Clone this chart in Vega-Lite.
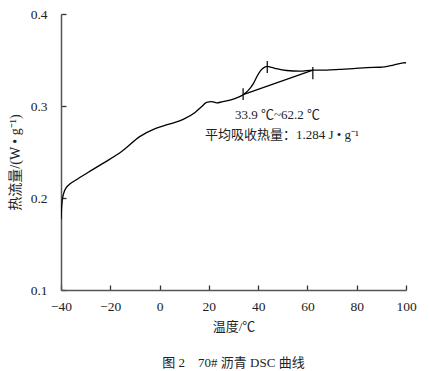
{
  "$schema": "https://vega.github.io/schema/vega-lite/v6.json",
  "width": 345,
  "height": 276,
  "autosize": {"type": "none"},
  "padding": {"left": 61, "top": 14, "right": 23, "bottom": 81},
  "background": "white",
  "config": {
    "view": {"stroke": null},
    "font": "Liberation Serif",
    "axis": {"grid": true, "gridColor": "#333", "gridWidth": 1.3, "gridOpacity": 1, "ticks": false, "domainColor": "#555", "domainWidth": 1.5, "labelColor": "#222", "titleColor": "#222", "labelFont": "Liberation Serif", "labelFontSize": 13.5, "titleFontWeight": "normal", "titleFontSize": 13, "titleFont": "Liberation Serif, Noto Sans CJK SC", "labelFlush": false, "labelOverlap": false}
  },
  "title": {"text": "图 2　70# 沥青 DSC 曲线", "orient": "bottom", "anchor": "middle", "fontSize": 13, "fontWeight": "normal", "font": "Liberation Serif, Noto Sans CJK SC", "color": "#222", "offset": 23},
  "datasets": {
    "curve": [
      {"t": -40.0, "q": 0.177},
      {"t": -39.8, "q": 0.188},
      {"t": -39.4, "q": 0.199},
      {"t": -38.8, "q": 0.206},
      {"t": -37.8, "q": 0.2115},
      {"t": -36.3, "q": 0.2155},
      {"t": -34.3, "q": 0.219},
      {"t": -28.9, "q": 0.228},
      {"t": -22.1, "q": 0.239},
      {"t": -15.4, "q": 0.2505},
      {"t": -7.9, "q": 0.267},
      {"t": -1.8, "q": 0.2755},
      {"t": 3.5, "q": 0.28},
      {"t": 9.6, "q": 0.2855},
      {"t": 14.4, "q": 0.293},
      {"t": 17.1, "q": 0.2994},
      {"t": 19.1, "q": 0.304},
      {"t": 21.1, "q": 0.3047},
      {"t": 23.2, "q": 0.3035},
      {"t": 25.2, "q": 0.3044},
      {"t": 28.6, "q": 0.3064},
      {"t": 31.5, "q": 0.309},
      {"t": 33.9, "q": 0.3123},
      {"t": 36.0, "q": 0.317},
      {"t": 38.0, "q": 0.324},
      {"t": 39.5, "q": 0.332},
      {"t": 41.0, "q": 0.3385},
      {"t": 42.5, "q": 0.342},
      {"t": 43.7, "q": 0.343},
      {"t": 45.5, "q": 0.342},
      {"t": 47.5, "q": 0.3406},
      {"t": 51.6, "q": 0.3386},
      {"t": 57.0, "q": 0.3378},
      {"t": 62.2, "q": 0.339},
      {"t": 67.8, "q": 0.339},
      {"t": 73.2, "q": 0.3398},
      {"t": 78.6, "q": 0.3406},
      {"t": 84.1, "q": 0.3418},
      {"t": 89.5, "q": 0.3421},
      {"t": 94.9, "q": 0.3445},
      {"t": 98.9, "q": 0.3469},
      {"t": 100.0, "q": 0.347}
    ],
    "tangent": [
      {"t": 33.9, "q": 0.3123},
      {"t": 62.2, "q": 0.339}
    ],
    "marks": [
      {"t": 33.9, "lo": 0.3064, "hi": 0.3194},
      {"t": 43.7, "lo": 0.3359, "hi": 0.3489},
      {"t": 62.2, "lo": 0.3292, "hi": 0.3425}
    ],
    "notes": [
      {"t": 30.6, "q": 0.29, "label": "33.9 ℃~62.2 ℃"},
      {"t": 18.4, "q": 0.269, "label": "平均吸收热量：1.284 J • g⁻¹"}
    ]
  },
  "layer": [
    {
      "data": {"name": "curve"},
      "mark": {"type": "line", "color": "black", "strokeWidth": 1.3, "interpolate": "monotone", "clip": true},
      "encoding": {
        "x": {"field": "t", "type": "quantitative", "scale": {"domain": [-40, 100], "nice": false, "zero": false},
          "axis": {"title": "温度/℃", "values": [-40, -20, 0, 20, 40, 60, 80, 100], "gridDash": [0, 271, 5, 100], "labelPadding": 9, "titlePadding": 8}},
        "y": {"field": "q", "type": "quantitative", "scale": {"domain": [0.1, 0.4], "nice": false, "zero": false},
          "axis": {"title": "热流量/(W • g⁻¹)", "titleFontSize": 14, "titleY": 148, "values": [0.1, 0.2, 0.3, 0.4], "format": ".1f", "gridDash": [5, 2000], "labelPadding": 14, "titlePadding": 8}}
      }
    },
    {
      "data": {"name": "tangent"},
      "mark": {"type": "line", "color": "black", "strokeWidth": 1.2},
      "encoding": {
        "x": {"field": "t", "type": "quantitative"},
        "y": {"field": "q", "type": "quantitative"}
      }
    },
    {
      "data": {"name": "marks"},
      "mark": {"type": "rule", "color": "black", "strokeWidth": 1.2},
      "encoding": {
        "x": {"field": "t", "type": "quantitative"},
        "y": {"field": "lo", "type": "quantitative"},
        "y2": {"field": "hi"}
      }
    },
    {
      "data": {"name": "notes"},
      "mark": {"type": "text", "align": "left", "baseline": "middle", "fontSize": 13, "font": "Liberation Serif, Noto Sans CJK SC", "color": "#222"},
      "encoding": {
        "x": {"field": "t", "type": "quantitative"},
        "y": {"field": "q", "type": "quantitative"},
        "text": {"field": "label"}
      }
    }
  ]
}
